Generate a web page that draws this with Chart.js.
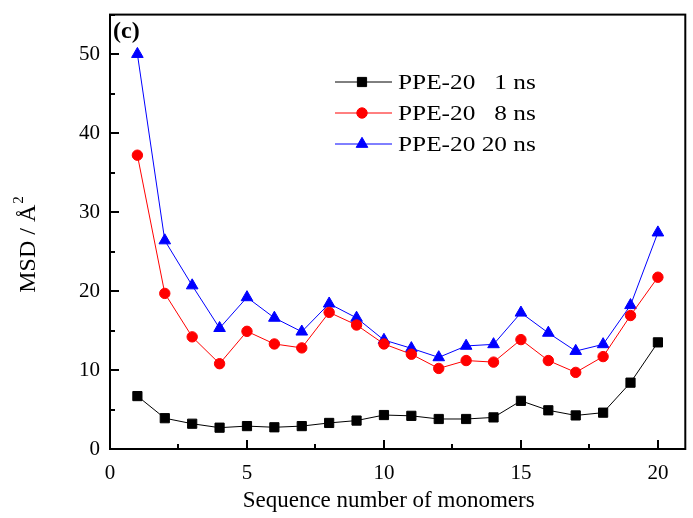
<!DOCTYPE html>
<html>
<head>
<meta charset="utf-8">
<script src="https://cdn.jsdelivr.net/npm/chart.js@4.4.1/dist/chart.umd.min.js"></script>
<style>
  html, body { margin: 0; padding: 0; background: #fff; }
  #wrap { width: 693px; height: 518px; }
</style>
</head>
<body>
<div id="wrap"><canvas id="msdChart" width="693" height="518"></canvas></div>
<script>
// Sequence number of monomers
const monomers = [1, 2, 3, 4, 5, 6, 7, 8, 9, 10, 11, 12, 13, 14, 15, 16, 17, 18, 19, 20];
// MSD values (Å²)
const msd1ns  = [6.7, 3.9, 3.2, 2.7, 2.9, 2.75, 2.9, 3.3, 3.6, 4.3, 4.2, 3.8, 3.8, 4.0, 6.1, 4.9, 4.25, 4.6, 8.4, 13.5];
const msd8ns  = [37.2, 19.7, 14.2, 10.8, 14.9, 13.3, 12.8, 17.3, 15.7, 13.3, 12.0, 10.2, 11.2, 11.0, 13.85, 11.2, 9.7, 11.7, 16.9, 21.75];
const msd20ns = [50.0, 26.4, 20.7, 15.3, 19.2, 16.6, 14.85, 18.4, 16.6, 13.8, 12.75, 11.6, 13.05, 13.25, 17.25, 14.7, 12.4, 13.25, 18.2, 27.4];
const seriesLabels = ['PPE-20   1 ns', 'PPE-20   8 ns', 'PPE-20 20 ns'];
const xTicks = [0, 5, 10, 15, 20];
const yTicks = [0, 10, 20, 30, 40, 50];
const xTitle = 'Sequence number of monomers';
const yTitle = 'MSD / Å';

const FONT = '"Liberation Serif", "Times New Roman", serif';

function toPoints(values) {
    return monomers.map((m, i) => ({ x: m, y: values[i] }));
}

// Frame, inward ticks, axis titles, panel label and legend
const framePlugin = {
    id: 'frame',
    afterDraw(chart) {
        const ctx = chart.ctx;
        const area = chart.chartArea;
        const xs = chart.scales.x;
        const ys = chart.scales.y;
        ctx.save();
        ctx.strokeStyle = '#000';
        ctx.lineWidth = 2;
        ctx.strokeRect(area.left, area.top, area.right - area.left, area.bottom - area.top);

        // x ticks (major every 5, minor every 2.5)
        for (let v = 0; v <= 20; v += 2.5) {
            const px = Math.round(xs.getPixelForValue(v));
            const len = v % 5 === 0 ? 9 : 5;
            ctx.beginPath();
            ctx.moveTo(px, area.bottom);
            ctx.lineTo(px, area.bottom - len);
            ctx.stroke();
        }
        // y ticks (major every 10, minor every 5)
        for (let v = 0; v <= 55; v += 5) {
            const py = Math.round(ys.getPixelForValue(v));
            const len = v % 10 === 0 ? 9 : 5;
            ctx.beginPath();
            ctx.moveTo(area.left, py);
            ctx.lineTo(area.left + len, py);
            ctx.stroke();
        }

        ctx.fillStyle = '#000';

        // x title
        ctx.font = '23px ' + FONT;
        ctx.textAlign = 'center';
        ctx.textBaseline = 'alphabetic';
        ctx.fillText(xTitle, (area.left + area.right) / 2 - 9, 507);

        // y title, rotated, with superscript 2
        ctx.save();
        ctx.translate(35, 245);
        ctx.rotate(-Math.PI / 2);
        ctx.font = '24px ' + FONT;
        const w = ctx.measureText(yTitle).width;
        ctx.font = '15px ' + FONT;
        const w2 = ctx.measureText('2').width;
        const start = -(w + w2) / 2;
        ctx.textAlign = 'left';
        ctx.font = '24px ' + FONT;
        ctx.fillText(yTitle, start, 0);
        ctx.font = '15px ' + FONT;
        ctx.fillText('2', start + w + 1, -12);
        ctx.restore();

        // panel label
        ctx.font = 'bold 24px ' + FONT;
        ctx.textAlign = 'left';
        ctx.textBaseline = 'middle';
        ctx.fillText('(c)', area.left + 3, area.top + 17);

        // legend
        const rows = [82, 113, 144];
        chart.data.datasets.forEach((ds, i) => {
            const y = rows[i];
            ctx.strokeStyle = ds.borderColor;
            ctx.lineWidth = 1;
            ctx.beginPath();
            ctx.moveTo(335, y);
            ctx.lineTo(392, y);
            ctx.stroke();
            ctx.fillStyle = ds.pointBackgroundColor;
            ctx.strokeStyle = ds.pointBorderColor;
            Chart.helpers.drawPoint(ctx, {
                pointStyle: ds.pointStyle,
                radius: ds.pointRadius,
                borderWidth: 1
            }, 362, y);
            ctx.save();
            ctx.translate(398, y + 1);
            ctx.scale(1.15, 1);
            ctx.fillStyle = '#000';
            ctx.font = '22px ' + FONT;
            ctx.textAlign = 'left';
            ctx.textBaseline = 'middle';
            ctx.fillText(ds.label, 0, 0);
            ctx.restore();
        });
        ctx.restore();
    }
};

new Chart(document.getElementById('msdChart'), {
    type: 'line',
    data: {
        datasets: [
            {
                label: seriesLabels[0],
                data: toPoints(msd1ns),
                borderColor: '#000000',
                backgroundColor: '#000000',
                pointBackgroundColor: '#000000',
                pointBorderColor: '#000000',
                pointStyle: 'rect',
                pointRadius: 6.5,
                borderWidth: 1,
                tension: 0
            },
            {
                label: seriesLabels[1],
                data: toPoints(msd8ns),
                borderColor: '#ff0000',
                backgroundColor: '#ff0000',
                pointBackgroundColor: '#ff0000',
                pointBorderColor: '#ff0000',
                pointStyle: 'circle',
                pointRadius: 5.2,
                borderWidth: 1,
                tension: 0
            },
            {
                label: seriesLabels[2],
                data: toPoints(msd20ns),
                borderColor: '#0000ff',
                backgroundColor: '#0000ff',
                pointBackgroundColor: '#0000ff',
                pointBorderColor: '#0000ff',
                pointStyle: 'triangle',
                pointRadius: 6.7,
                borderWidth: 1,
                tension: 0
            }
        ]
    },
    options: {
        responsive: false,
        animation: false,
        layout: { padding: { top: 14, right: 3, left: 0, bottom: 0 } },
        plugins: {
            legend: { display: false },
            tooltip: { enabled: false }
        },
        scales: {
            x: {
                type: 'linear',
                min: 0,
                max: 21,
                afterFit(scale) { scale.height = 69; },
                afterBuildTicks(scale) { scale.ticks = xTicks.map(v => ({ value: v })); },
                grid: { display: false },
                border: { display: false },
                ticks: {
                    color: '#000',
                    font: { family: FONT, size: 21 },
                    padding: 4,
                    maxRotation: 0
                }
            },
            y: {
                type: 'linear',
                min: 0,
                max: 55,
                afterFit(scale) { scale.width = 110; },
                afterBuildTicks(scale) { scale.ticks = yTicks.map(v => ({ value: v })); },
                grid: { display: false },
                border: { display: false },
                ticks: {
                    color: '#000',
                    font: { family: FONT, size: 21 },
                    padding: 2
                }
            }
        }
    },
    plugins: [framePlugin]
});
</script>
</body>
</html>
